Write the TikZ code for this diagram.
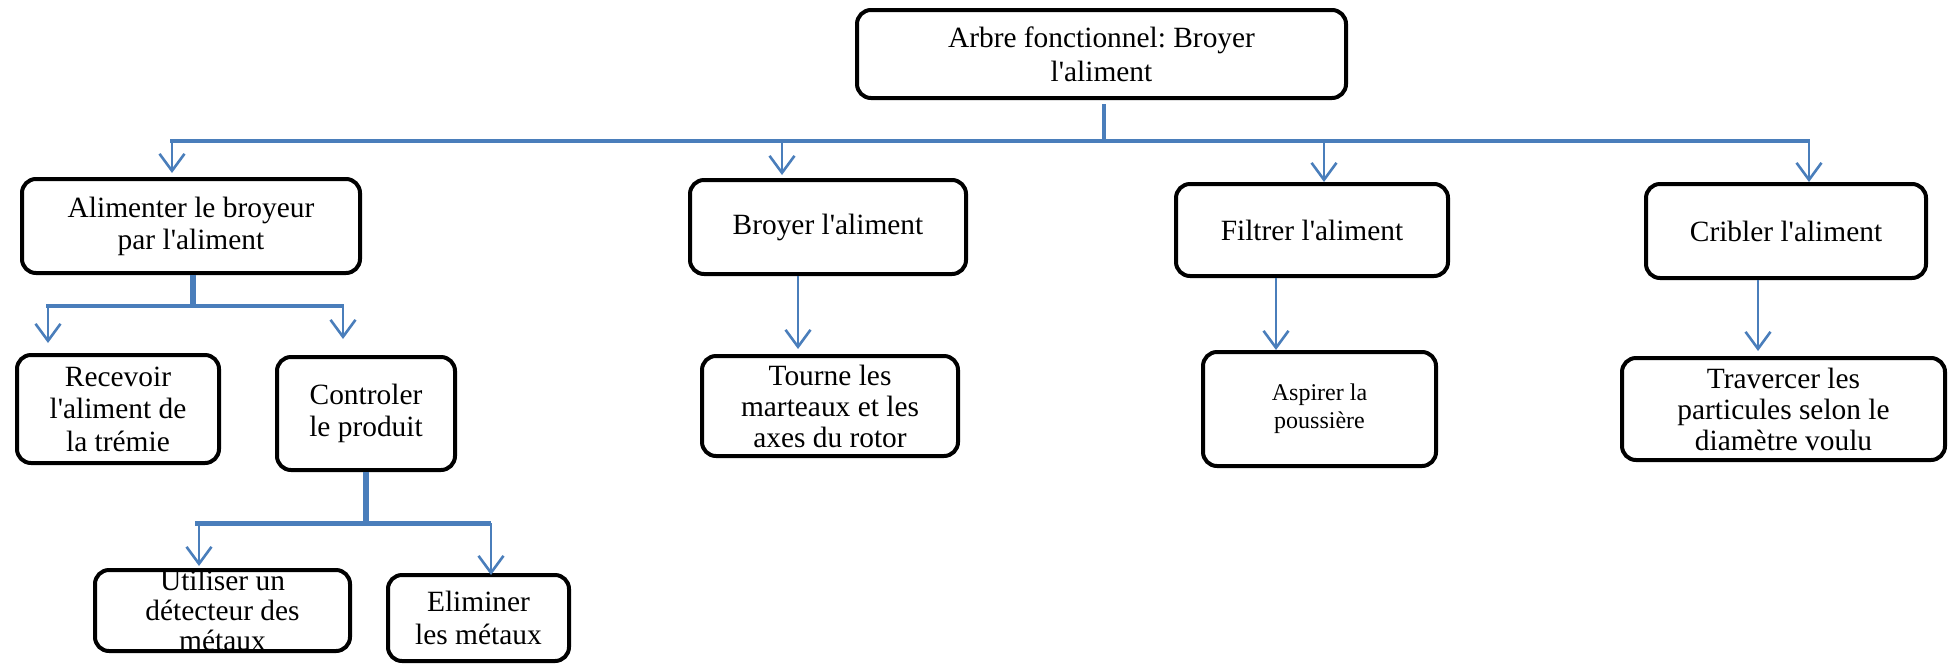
\documentclass[tikz,border=0pt]{standalone}
\usepackage{fontspec}
\setmainfont{Liberation Serif}[Ligatures=TeXOff]
\usetikzlibrary{arrows.meta}
\definecolor{linkblue}{RGB}{74,126,187}
\frenchspacing
\begin{document}
\begin{tikzpicture}[x=0.5pt,y=-0.5pt,
  fbox/.style={draw=black, line width=2pt, rounded corners=7pt, align=center,
    inner sep=0pt, fill=white, font=\fontsize{14.7}{16}\selectfont},
  arr/.style={draw=linkblue, line width=1.3pt, -{Straight Barb[length=8.5pt,width=12.5pt]}},
  bar/.style={draw=linkblue, line width=2pt},
  stem/.style={draw=linkblue, line width=2pt}]
\useasboundingbox (0,0) rectangle (1952,665);

% ---- boxes ----
\node[fbox, minimum width=244.5pt, minimum height=44pt,
  font=\fontsize{14.7}{17}\selectfont] (root) at (1101.5,54)
  {Arbre fonctionnel: Broyer\\l'aliment};

\node[fbox, minimum width=169pt, minimum height=47pt] (feed) at (191,226)
  {Alimenter le broyeur\\par l'aliment};
\node[fbox, minimum width=138pt, minimum height=47pt] (grind) at (828,227)
  {Broyer l'aliment};
\node[fbox, minimum width=136pt, minimum height=46pt] (filter) at (1312,230)
  {Filtrer l'aliment};
\node[fbox, minimum width=140pt, minimum height=47pt] (sieve) at (1786,231)
  {Cribler l'aliment};

\node[fbox, minimum width=101pt, minimum height=54pt,
  font=\fontsize{14.7}{16.3}\selectfont] (recv) at (118,409)
  {Recevoir\\l'aliment de\\la trémie};
\node[fbox, minimum width=89pt, minimum height=56.5pt] (ctrl) at (366,413.5)
  {Controler\\le produit};
\node[fbox, minimum width=128pt, minimum height=50pt,
  font=\fontsize{14.7}{15.5}\selectfont] (turn) at (830,406)
  {Tourne les\\marteaux et les\\axes du rotor};
\node[fbox, minimum width=116.5pt, minimum height=57pt,
  font=\fontsize{12}{14}\selectfont] (suck) at (1319.5,409)
  {Aspirer la\\poussière};
\node[fbox, minimum width=161.5pt, minimum height=51pt,
  font=\fontsize{14.7}{15.5}\selectfont] (pass) at (1783.5,409)
  {Travercer les\\particules selon le\\diamètre voulu};

\node[fbox, minimum width=127.5pt, minimum height=40.5pt,
  font=\fontsize{14.7}{15}\selectfont] (detect) at (222.5,610.5)
  {Utiliser un\\détecteur des\\métaux};
\node[fbox, minimum width=90.5pt, minimum height=43pt,
  font=\fontsize{14.7}{16.5}\selectfont] (remove) at (478.5,618)
  {Eliminer\\les métaux};

% ---- first level: root to the four functions ----
\coordinate (hub0) at (1104,141);
\coordinate (barL) at (170,141);
\coordinate (barR) at (1810,141);
\draw[stem] ([yshift=-2pt]root.south -| hub0) -- (hub0);
\draw[bar] (barL) -- (barR);
\coordinate (tFeed) at (172,141);
\coordinate (tGrind) at (782,141);
\coordinate (tFilter) at (1324,141);
\coordinate (tSieve) at (1809,141);
\draw[arr, shorten >=2pt] (tFeed) -- (tFeed |- feed.north);
\draw[arr, shorten >=1.5pt] (tGrind) -- (tGrind |- grind.north);
\draw[arr] (tFilter) -- (tFilter |- filter.north);
\draw[arr] (tSieve) -- (tSieve |- sieve.north);

% ---- feeding branch ----
\coordinate (hubA) at (193,306);
\draw[stem, line width=3pt] (feed.south -| hubA) -- (hubA);
\draw[bar] (46,306) coordinate (barAL) -- (344,306) coordinate (barAR);
\coordinate (tRecv) at (48,306);
\coordinate (tCtrl) at (343,306);
\draw[arr, shorten >=5pt] (tRecv) -- (tRecv |- recv.north);
\draw[arr, shorten >=8pt] (tCtrl) -- (tCtrl |- ctrl.north);

% ---- control branch ----
\coordinate (hubC) at (366,523);
\draw[stem, line width=3pt] (ctrl.south -| hubC) -- (hubC);
\draw[bar, line width=2.5pt] (195,523) coordinate (barCL) -- (491,523) coordinate (barCR);
\coordinate (tDetect) at (199,523);
\coordinate (tRemove) at (491,523);
\draw[arr, shorten >=1pt] (tDetect) -- (tDetect |- detect.north);
\draw[arr, shorten >=-1pt] (tRemove) -- (tRemove |- remove.north);

% ---- single descendants ----
\coordinate (sGrind) at (798,0);
\coordinate (sFilter) at (1276,0);
\coordinate (sSieve) at (1758,0);
\draw[arr, shorten >=2.5pt] (grind.south -| sGrind) -- (turn.north -| sGrind);
\draw[arr] (filter.south -| sFilter) -- (suck.north -| sFilter);
\draw[arr, shorten >=2.5pt] (sieve.south -| sSieve) -- (pass.north -| sSieve);
\end{tikzpicture}
\end{document}
